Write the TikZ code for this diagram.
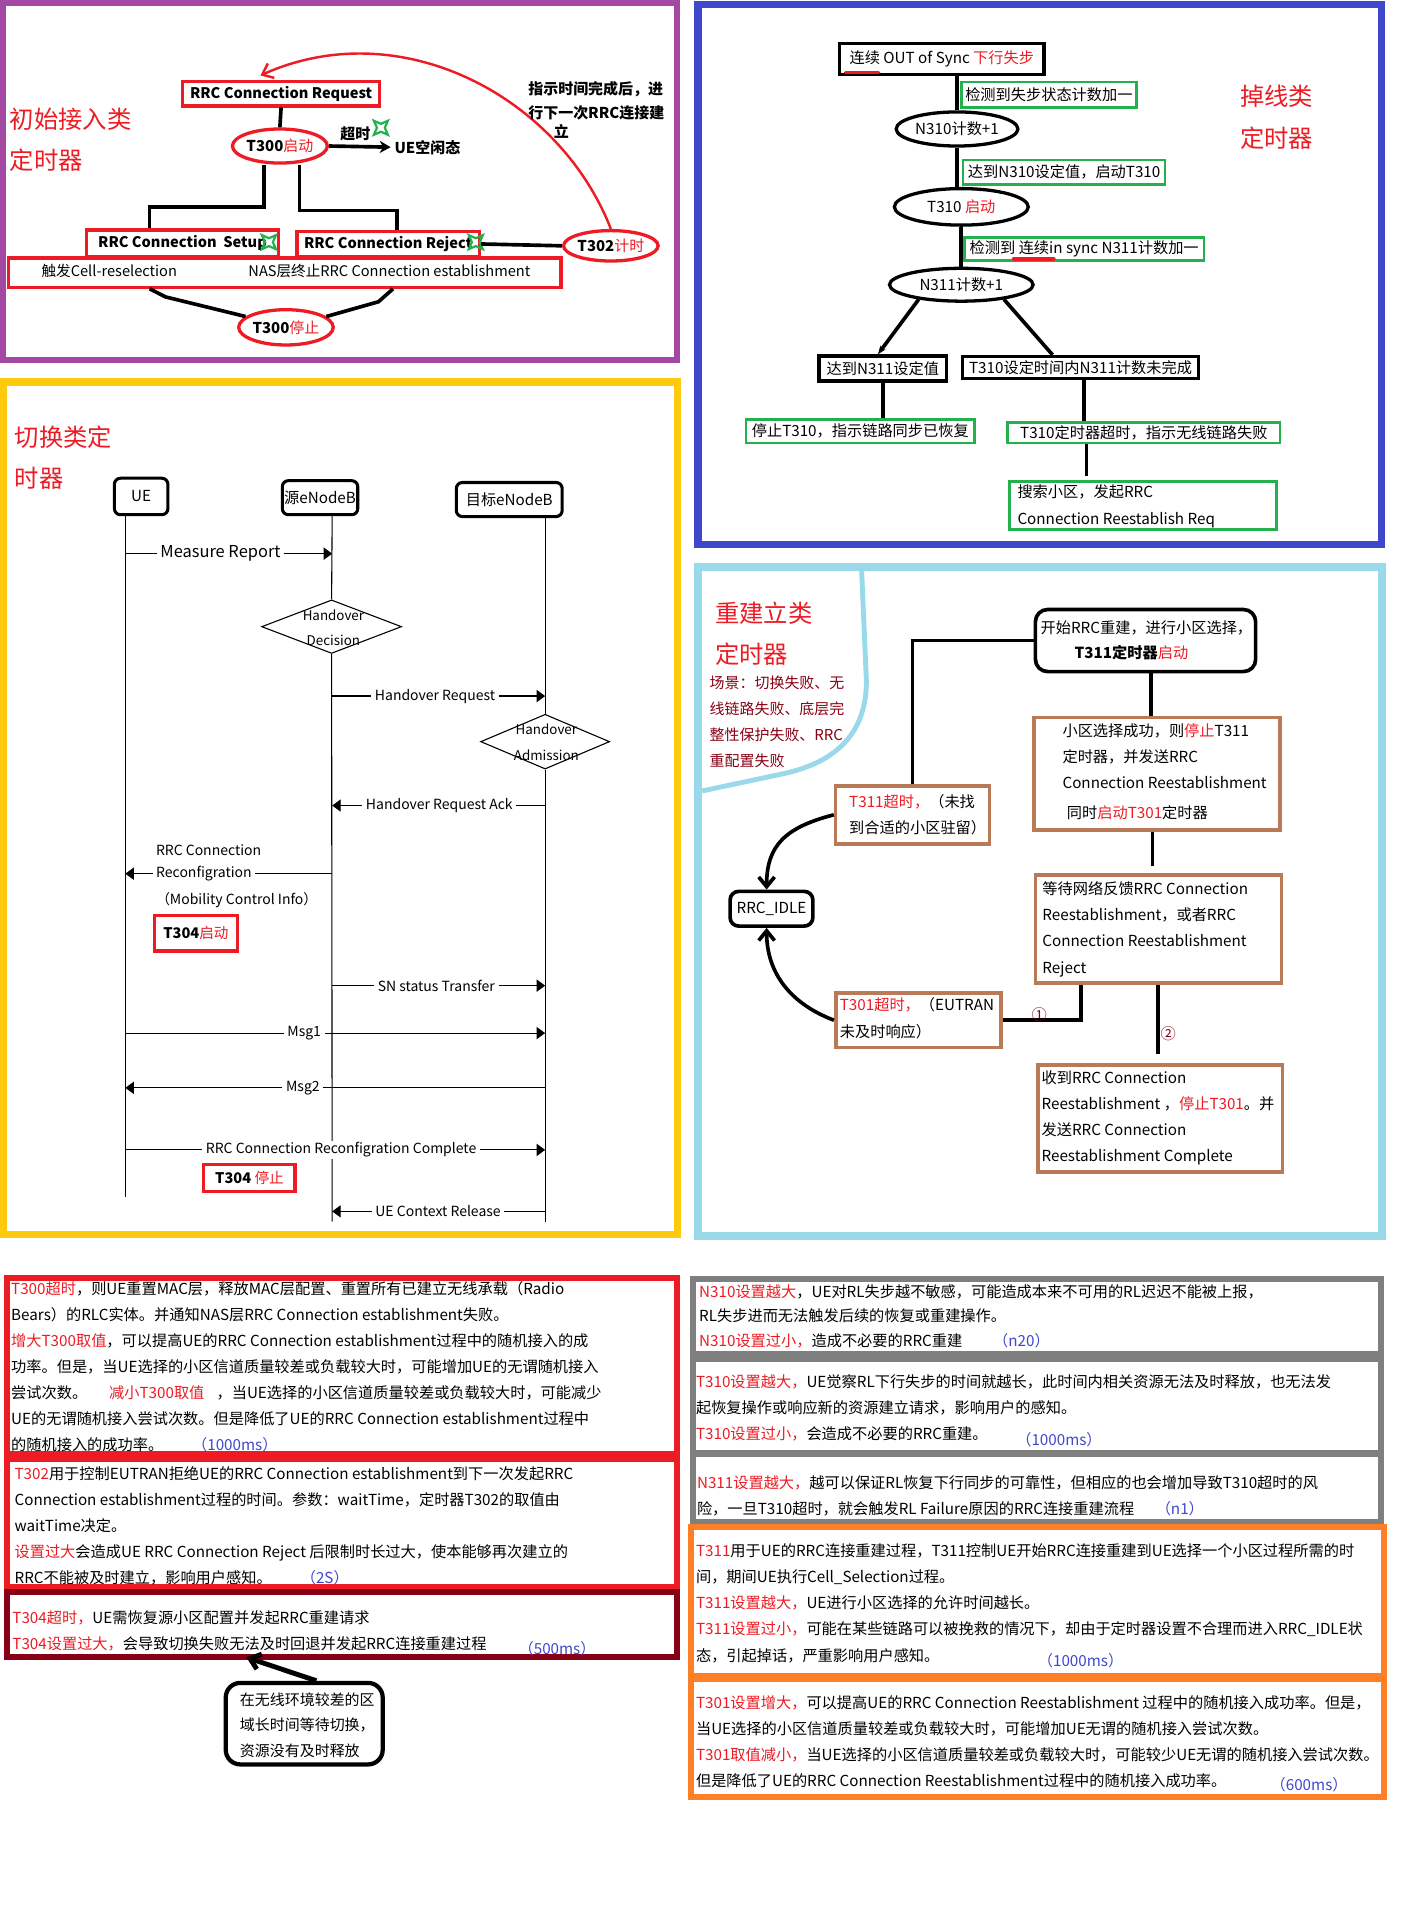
\documentclass[tikz,border=0pt]{standalone}
\usepackage{fontspec}
\setmainfont{Noto Sans CJK SC}
\usetikzlibrary{arrows.meta,shapes.geometric}
\definecolor{pRed}{RGB}{237,28,36}
\definecolor{pPurple}{RGB}{163,73,164}
\definecolor{pBlue}{RGB}{63,72,204}
\definecolor{pYellow}{RGB}{255,201,14}
\definecolor{pCyan}{RGB}{153,217,234}
\definecolor{pGreen}{RGB}{34,177,76}
\definecolor{pBrown}{RGB}{185,122,87}
\definecolor{pDark}{RGB}{136,0,21}
\definecolor{pGray}{RGB}{127,127,127}
\definecolor{pOrange}{RGB}{255,127,39}
\newcommand{\setfs}[2]{\fontsize{#1}{#2}\selectfont}
\begin{document}
\begin{tikzpicture}[x=1pt, y=-1pt,
  txt/.style={inner sep=0pt, anchor=west, align=left, font=\setfs{12.5}{21.4}},
  title/.style={inner sep=0pt, anchor=west, text=pRed, font=\setfs{20}{24}},
  hint/.style={inner sep=0pt, anchor=west, font=\setfs{12.3}{14}\bfseries},
  num/.style={inner sep=0pt, anchor=west, text=pBlue, font=\setfs{12.5}{14}},
  link/.style={line width=3pt},
  redbox/.style={draw=pRed, line width=2.7pt, inner sep=1pt, font=\setfs{12}{14}},
  redoval/.style={ellipse, draw=pRed, line width=2.7pt, inner sep=0pt, font=\setfs{12.3}{14}},
  blkbox/.style={draw, line width=2.7pt, inner sep=1pt, font=\setfs{12.5}{14}},
  blkoval/.style={ellipse, draw, line width=2.7pt, inner sep=0pt, font=\setfs{12.5}{14}},
  grnbox/.style={draw=pGreen, line width=2.2pt, inner sep=1pt, font=\setfs{12.5}{14}},
  brnbox/.style={draw=pBrown, line width=3pt, inner sep=0pt},
  spark/.style={star, star points=4, star point ratio=0.4, draw=pGreen, line width=1.8pt, minimum size=6.5pt, inner sep=0pt},
  actor/.style={draw, rounded corners=5pt, line width=2.5pt, inner sep=1pt, font=\setfs{12.5}{14}},
  decide/.style={diamond, draw, line width=0.9pt, inner sep=0pt},
  life/.style={line width=0.9pt},
  msg/.style={line width=0.9pt, -{Triangle[length=7pt,width=10pt]}},
  lbl/.style={fill=white, inner xsep=3pt, inner ysep=1pt, font=\setfs{11.5}{14}},
  panel/.style={line width=5pt},
  barb/.style={-{Straight Barb[length=8pt,width=13pt]}},
]
\fill[white] (0,0) rectangle (1155,1568);
\useasboundingbox (0,0) rectangle (1155,1568);

% initial access timers
\draw[pPurple, line width=5pt] (2.5,2.5) rectangle (556.5,296);
\node[title] (ttlA1) at (8,98) {初始接入类};
\node[title] (ttlA2) at (8,132) {定时器};
\node[redbox, minimum width=162pt, minimum height=20pt, font=\setfs{12}{14}\bfseries] (req) at (231,77) {RRC Connection Request};
\node[redoval, minimum width=78pt, minimum height=28pt] (t300on) at (230,120) {\bfseries T300\textcolor{pRed}{\mdseries 启动}};
\node[hint] (idle1) at (324,121) {UE空闲态};
\node[inner sep=0pt, font=\setfs{12.3}{14}\bfseries] (tout) at (292,110) {超时};
\node[spark] (sp1) at (313,105) {};
\draw[link, -{Stealth[length=9pt,width=10pt]}, shorten >=3pt] (t300on.east) -- (idle1.west);
\draw[link] (req.south) -- (t300on.north);
\node[redbox, minimum width=454pt, minimum height=24pt] (cause) at (234,224) {};
\node[inner sep=0pt, anchor=west, font=\setfs{12}{14}] (cres) at (34,223) {触发Cell-reselection};
\node[inner sep=0pt, anchor=west, font=\setfs{12}{14}] (nasend) at (204,223) {NAS层终止RRC Connection establishment};
\node[redbox, minimum width=158pt, minimum height=22pt, font=\setfs{12}{14}\bfseries] (setup) at (150,200) {RRC Connection\ \ Setup};
\node[redbox, minimum width=150pt, minimum height=21pt, font=\setfs{12}{14}\bfseries] (reject) at (319,200.5) {RRC Connection Reject};
\node[spark] (sp2) at (221,199) {};
\node[spark] (sp3) at (391,199) {};
\node[redoval, minimum width=66pt, minimum height=25pt] (t302) at (502,202) {\bfseries T302\textcolor{pRed}{\mdseries 计时}};
\draw[link] (217,0 |- t300on.south) |- (123,170) -- (123,0 |- setup.north);
\draw[link] (246,0 |- t300on.south) |- (326,173) -- (326,0 |- reject.north);
\draw[link] (reject.east) -- (t302.west);
\coordinate (reqin) at (214,62);
\draw[pRed, line width=2pt, barb] (t302.north) .. controls (460,80) and (330,10) .. (reqin);
\node[hint] (hint1) at (434,73) {指示时间完成后，进};
\node[hint] (hint2) at (434,93) {行下一次RRC连接建};
\node[hint] (hint3) at (455,108) {立};
\node[redoval, minimum width=64pt, minimum height=29pt] (t300off) at (235,269) {\bfseries T300\textcolor{pRed}{\mdseries 停止}};
\draw[link] (123,0 |- cause.south) -- (136,244) -- (t300off.165);
\draw[link] (323,0 |- cause.south) -- (311,248) -- (t300off.15);

% radio link failure timers
\draw[pBlue, line width=6pt] (573.5,3.5) rectangle (1135.5,447.5);
\node[title] (ttlB1) at (1019,79) {掉线类};
\node[title] (ttlB2) at (1019,113.5) {定时器};
\node[blkbox, minimum width=168pt, minimum height=25pt] (oos) at (774,48.5) {连续 OUT of Sync \textcolor{pRed}{下行失步}};
\draw[pRed, line width=3pt, line cap=round] (695,59.5) -- (722,59.5);
\node[grnbox, minimum width=144pt, minimum height=21pt] (lost) at (862,78) {检测到失步状态计数加一};
\node[blkoval, minimum width=100pt, minimum height=28pt] (n310) at (786.5,106) {N310计数+1};
\draw[link] (n310.north |- oos.south) -- (n310.north);
\node[grnbox, minimum width=166pt, minimum height=20pt] (hit310) at (874.5,141.5) {达到N310设定值，启动T310};
\node[blkoval, minimum width=110pt, minimum height=30pt] (t310) at (790,170) {T310 \textcolor{pRed}{启动}};
\draw[link] (n310.south) -- (n310.south |- t310.north);
\node[grnbox, minimum width=197pt, minimum height=19pt] (insync) at (891,204.5) {检测到 连续in sync N311计数加一};
\draw[pRed, line width=3pt, line cap=round] (833,212.6) -- (866,212.6);
\node[blkoval, minimum width=118pt, minimum height=27pt] (n311) at (790,234) {N311计数+1};
\draw[link] (t310.south) -- (n311.north);
\node[blkbox, minimum width=105pt, minimum height=20.5pt] (hit311) at (725.5,302.75) {达到N311设定值};
\node[blkbox, minimum width=194pt, minimum height=18pt] (notdone) at (888,302) {T310设定时间内N311计数未完成};
\draw[link, -{Stealth[length=7pt]}] (n311.199) -- ([xshift=-4pt]hit311.north);
\draw[link] (n311.341) -- ([xshift=-23pt]notdone.north);
\node[grnbox, minimum width=188pt, minimum height=19pt] (resync) at (707,354.5) {停止T310，指示链路同步已恢复};
\draw[link] (hit311.south) -- (hit311.south |- resync.north);
\node[grnbox, minimum width=224pt, minimum height=17pt] (rlf) at (940,355.5) {T310定时器超时，指示无线链路失败};
\draw[link] (891,0 |- notdone.south) -- (891,0 |- rlf.north);
\node[grnbox, minimum width=219.5pt, minimum height=39.5pt] (search) at (939.25,415.35) {};
\node[txt, font=\setfs{12.5}{22}] (searchT) at (836,416) {搜索小区，发起RRC\\Connection Reestablish Req};
\draw[link] (893,0 |- rlf.south) -- (893,391);

% handover timers
\draw[pYellow, line width=6pt] (2.7,314) rectangle (556.5,1014.3);
\node[title] (ttlC1) at (12,359) {切换类定};
\node[title] (ttlC2) at (12,393) {时器};
\node[actor, minimum width=44pt, minimum height=30pt] (ue) at (116,408) {UE};
\node[actor, minimum width=62pt, minimum height=28pt] (src) at (263,409) {源eNodeB};
\node[actor, minimum width=87pt, minimum height=28pt] (tgt) at (418.5,410.5) {目标eNodeB};
\coordinate (ueL) at (103,0 |- ue.south);
\coordinate (srcL) at (273,0 |- src.south);
\coordinate (tgtL) at (448,0 |- tgt.south);
\coordinate (ueB) at (103,984);
\coordinate (srcB) at (273,1004);
\coordinate (tgtB) at (448,1004);
\node[decide, minimum width=115pt, minimum height=44pt] (dec) at (272.5,515) {};
\node[inner sep=0pt, align=center, font=\setfs{11}{20.5}] (decT) at (274,516) {Handover\\Decision};
\node[decide, minimum width=106pt, minimum height=45pt] (adm) at (448,609.5) {};
\node[inner sep=0pt, align=center, font=\setfs{11}{20.7}] (admT) at (449,610) {Handover\\Admission};
\draw[life] (ueL) -- (ueB);
\draw[life] (srcL) -- (dec.north);
\draw[life] (dec.south) -- (srcB);
\draw[life] (tgtL) -- (adm.north);
\draw[life] (adm.south) -- (tgtB);
\draw[msg] (ueL |- 0,455) -- node[lbl, pos=0.46, font=\setfs{13.5}{16}] (mr) {Measure Report} (srcL |- 0,455);
\draw[msg] (srcL |- 0,572) -- node[lbl, pos=0.483] (hreq) {Handover Request} (tgtL |- 0,572);
\draw[msg] (tgtL |- 0,662) -- node[lbl, pos=0.497] (hack) {Handover Request Ack} (srcL |- 0,662);
\draw[msg] (srcL |- 0,718) -- node[lbl, pos=0.871, anchor=west] (rcB) {Reconfigration} (ueL |- 0,718);
\node[inner sep=0pt, anchor=west, font=\setfs{11.5}{14}] (rcA) at (128,698.3) {RRC Connection};
\node[inner sep=0pt, anchor=west, font=\setfs{11.5}{14}] (rcC) at (128,740) {（Mobility Control Info）};
\node[redbox, minimum width=68pt, minimum height=29pt] (t304on) at (161,767) {\bfseries T304\textcolor{pRed}{\mdseries 启动}};
\draw[msg] (srcL |- 0,810) -- node[lbl, pos=0.489] (snst) {SN status Transfer} (tgtL |- 0,810);
\draw[msg] (ueL |- 0,849) -- node[lbl, pos=0.426] (m1) {Msg1} (tgtL |- 0,849);
\draw[msg] (tgtL |- 0,894) -- node[lbl, pos=0.577] (m2) {Msg2} (ueL |- 0,894);
\draw[msg] (ueL |- 0,945) -- node[lbl, pos=0.514] (rcc) {RRC Connection Reconfigration Complete} (tgtL |- 0,945);
\node[redbox, minimum width=75pt, minimum height=22.6pt] (t304off) at (205,968) {\bfseries T304 \textcolor{pRed}{\mdseries 停止}};
\draw[msg] (tgtL |- 0,995.5) -- node[lbl, pos=0.503] (ctx) {UE Context Release} (srcL |- 0,995.5);

% re-establishment timers
\draw[pCyan, line width=6.5pt] (573.3,466) rectangle (1135.5,1015.5);
\draw[pCyan, line width=4pt] (708,467) -- (712,560) .. controls (712,600) and (690,626) .. (643,636) -- (577,650);
\node[title] (ttlD1) at (587.5,504) {重建立类};
\node[title] (ttlD2) at (587.5,538) {定时器};
\node[txt, text=pDark, font=\setfs{12.3}{21.2}] (scene) at (583,593.2) {场景：切换失败、无\\线链路失败、底层完\\整性保护失败、RRC\\重配置失败};
\node[actor, line width=3pt, rounded corners=10pt, minimum width=181pt, minimum height=51pt] (rebuild) at (941.4,526.4) {};
\node[txt, font=\setfs{12.5}{20.7}] (rebuildT) at (855,526.4) {开始RRC重建，进行小区选择，\\\hspace*{28pt}\textbf{T311定时器}\textcolor{pRed}{启动}};
\node[brnbox, minimum width=126.6pt, minimum height=47.6pt] (t311out) at (750,669.6) {};
\node[txt, font=\setfs{12.5}{22}] (t311T) at (697.7,669.5) {\textcolor{pRed}{T311超时，}（未找\\到合适的小区驻留）};
\draw[link] (rebuild.west) -| (t311out.north);
\node[actor, line width=3pt, rounded corners=7pt, minimum width=68pt, minimum height=28.5pt] (idle) at (634,746.8) {RRC\_IDLE};
\draw[link, barb] (t311out.west) .. controls (645,680) and (630,695) .. ([xshift=-4pt]idle.north);
\node[brnbox, minimum width=201.7pt, minimum height=92.4pt] (selok) at (950.8,635.8) {};
\node[txt, font=\setfs{12.5}{21.5}] (selokT) at (873,634) {小区选择成功，则\textcolor{pRed}{停止}T311\\定时器，并发送RRC\\Connection Reestablishment\\[3pt]\hspace*{3.6pt}同时\textcolor{pRed}{启动T301}定时器};
\draw[link] (946,0 |- rebuild.south) -- (946,0 |- selok.north);
\node[brnbox, minimum width=202pt, minimum height=89pt] (waitfb) at (952,763.5) {};
\node[txt, font=\setfs{12.5}{21.7}] (waitT) at (856.5,763.5) {等待网络反馈RRC Connection\\Reestablishment，或者RRC\\Connection Reestablishment\\Reject};
\draw[link] (947,0 |- selok.south) -- ++(0,28);
\node[brnbox, minimum width=135.8pt, minimum height=44.7pt] (t301out) at (754.7,838.4) {};
\node[txt, font=\setfs{12.5}{22}] (t301T) at (690,836.5) {\textcolor{pRed}{T301超时，}（EUTRAN\\未及时响应）};
\draw[link] (888.6,0 |- waitfb.south) |- (t301out.east);
\node[inner sep=0pt, text=pDark, font=\setfs{12.5}{14}] (c1) at (854,834) {①};
\draw[link] (951.4,0 |- waitfb.south) -- ++(0,57);
\node[inner sep=0pt, text=pDark, font=\setfs{12.5}{14}] (c2) at (960,849.5) {②};
\node[brnbox, minimum width=201pt, minimum height=88pt] (recv) at (953.5,919) {};
\node[txt] (recvT) at (855.8,918.85) {收到RRC Connection\\Reestablishment ，\textcolor{pRed}{停止T301}。并\\发送RRC Connection\\Reestablishment Complete};
\draw[link, barb] (t301out.west) .. controls (650,825) and (630,800) .. ([xshift=-4pt]idle.south);

% notes, left
\draw[pRed, panel] (6,1050) rectangle (556,1195);
\node[txt] (noteA) at (9,1122.85) {\textcolor{pRed}{T300超时}，则UE重置MAC层，释放MAC层配置、重置所有已建立无线承载（Radio\\Bears）的RLC实体。并通知NAS层RRC Connection establishment失败。\\\textcolor{pRed}{增大T300取值}，可以提高UE的RRC Connection establishment过程中的随机接入的成\\功率。但是，当UE选择的小区信道质量较差或负载较大时，可能增加UE的无谓随机接入\\尝试次数。\hspace{18pt}\textcolor{pRed}{减小T300取值}\hspace{10pt}，当UE选择的小区信道质量较差或负载较大时，可能减少\\UE的无谓随机接入尝试次数。但是降低了UE的RRC Connection establishment过程中\\的随机接入的成功率。};
\node[num] (vA) at (157.7,1187) {（1000ms）};
\draw[pRed, panel] (6,1199) rectangle (556,1304);
\node[txt] (noteB) at (11.8,1253.7) {\textcolor{pRed}{T302}用于控制EUTRAN拒绝UE的RRC Connection establishment到下一次发起RRC\\Connection establishment过程的时间。参数：waitTime，定时器T302的取值由\\waitTime决定。\\\textcolor{pRed}{设置过大}会造成UE RRC Connection Reject 后限制时长过大，使本能够再次建立的\\RRC不能被及时建立，影响用户感知。};
\node[num] (vB) at (247,1296.6) {（2S）};
\draw[pDark, panel] (5.5,1308) rectangle (556.5,1361.6);
\node[txt] (noteC) at (10,1340.25) {\textcolor{pRed}{T304超时，}UE需恢复源小区配置并发起RRC重建请求\\\textcolor{pRed}{T304设置过大，}会导致切换失败无法及时回退并发起RRC连接重建过程};
\node[num] (vC) at (426,1354.5) {（500ms）};
\node[draw, line width=3.5pt, rounded corners=12pt, minimum width=129pt, minimum height=67pt] (why) at (250,1416.5) {};
\node[txt, font=\setfs{12.3}{21.2}] (whyT) at (197,1417.8) {在无线环境较差的区\\域长时间等待切换，\\资源没有及时释放};
\coordinate (whytip) at (202.5,1362);
\draw[line width=4pt, barb] ([xshift=10pt]why.north) -- (whytip);

% notes, right
\draw[pGray, panel] (569.5,1051) rectangle (1135,1113);
\node[txt, font=\setfs{12.5}{20.2}] (noteD) at (574.4,1081.5) {\textcolor{pRed}{N310设置越大}，UE对RL失步越不敏感，可能造成本来不可用的RL迟迟不能被上报，\\RL失步进而无法触发后续的恢复或重建操作。\\\textcolor{pRed}{N310设置过小，}造成不必要的RRC重建};
\node[num] (vD) at (816,1101.7) {（n20）};
\draw[pGray, panel] (569.5,1116.5) rectangle (1135,1193.7);
\node[txt, font=\setfs{12.5}{21.5}] (noteE) at (571.8,1156.9) {\textcolor{pRed}{T310设置越大，}UE觉察RL下行失步的时间就越长，此时间内相关资源无法及时释放，也无法发\\起恢复操作或响应新的资源建立请求，影响用户的感知。\\\textcolor{pRed}{T310设置过小，}会造成不必要的RRC重建。};
\node[num] (vE) at (835,1183.4) {（1000ms）};
\draw[pGray, panel] (569.5,1194.5) rectangle (1135,1251);
\node[txt, font=\setfs{12.5}{21}] (noteF) at (572.6,1229.5) {\textcolor{pRed}{N311设置越大，}越可以保证RL恢复下行同步的可靠性，但相应的也会增加导致T310超时的风\\险，一旦T310超时，就会触发RL Failure原因的RRC连接重建流程};
\node[num] (vF) at (949.6,1240) {（n1）};
\draw[pOrange, panel] (568,1255) rectangle (1137,1377);
\node[txt] (noteG) at (571.8,1317.6) {\textcolor{pRed}{T311}用于UE的RRC连接重建过程，T311控制UE开始RRC连接重建到UE选择一个小区过程所需的时\\间，期间UE执行Cell\_Selection过程。\\\textcolor{pRed}{T311设置越大，}UE进行小区选择的允许时间越长。\\\textcolor{pRed}{T311设置过小，}可能在某些链路可以被挽救的情况下，却由于定时器设置不合理而进入RRC\_IDLE状\\态，引起掉话，严重影响用户感知。};
\node[num] (vG) at (852.7,1365) {（1000ms）};
\draw[pOrange, panel] (568,1379.5) rectangle (1137,1476.7);
\node[txt] (noteH) at (571.8,1431.6) {\textcolor{pRed}{T301设置增大，}可以提高UE的RRC Connection Reestablishment 过程中的随机接入成功率。但是，\\当UE选择的小区信道质量较差或负载较大时，可能增加UE无谓的随机接入尝试次数。\\\textcolor{pRed}{T301取值减小，}当UE选择的小区信道质量较差或负载较大时，可能较少UE无谓的随机接入尝试次数。\\但是降低了UE的RRC Connection Reestablishment过程中的随机接入成功率。};
\node[num] (vH) at (1044,1466.5) {（600ms）};
\end{tikzpicture}
\end{document}
